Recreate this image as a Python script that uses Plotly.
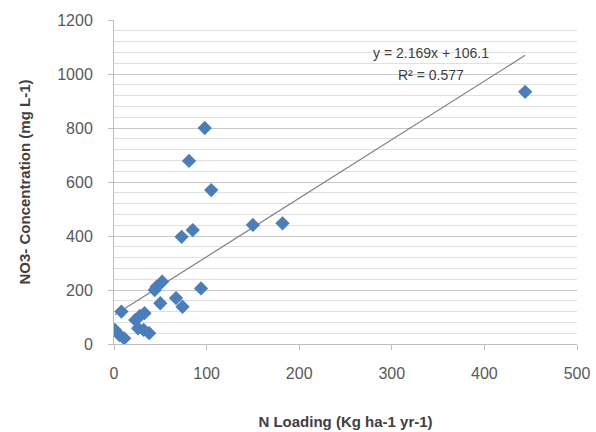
import plotly.graph_objects as go

# Data
n_loading = [444, 98, 81, 105, 85, 73, 150, 182, 94, 46, 52, 44, 50, 67, 74,
             8, 1, 6, 11, 23, 28, 33, 26, 32, 38]
no3_conc = [934, 800, 678, 570, 422, 397, 441, 447, 206, 212, 231, 200, 151, 170, 138,
            120, 52, 33, 21, 89, 104, 114, 58, 52, 40]

slope = 2.169
intercept = 106.1
r_squared = 0.577

x_ticks = [0, 100, 200, 300, 400, 500]
y_ticks = [0, 200, 400, 600, 800, 1000, 1200]

x_min, x_max = min(n_loading), max(n_loading)
trend_x = [x_min, x_max]
trend_y = [slope * v + intercept for v in trend_x]

fig = go.Figure()
fig.add_trace(go.Scatter(
    x=trend_x, y=trend_y, mode="lines",
    line=dict(color="#808080", width=1.2), showlegend=False, hoverinfo="skip"))
fig.add_trace(go.Scatter(
    x=n_loading, y=no3_conc, mode="markers",
    marker=dict(symbol="diamond", size=11, color="#4a7ebb"),
    showlegend=False))

font_family = "Liberation Sans, Arial, sans-serif"

fig.add_annotation(x=342, y=1078, xref="x", yref="y",
                   text=f"y = {slope}x + {intercept}", showarrow=False,
                   font=dict(family=font_family, size=14, color="#404040"))
fig.add_annotation(x=342, y=996, xref="x", yref="y",
                   text=f"R² = {r_squared}", showarrow=False,
                   font=dict(family=font_family, size=14, color="#404040"))

fig.update_layout(
    width=596, height=432,
    margin=dict(l=114, r=19, t=20, b=88),
    paper_bgcolor="white", plot_bgcolor="white",
    font=dict(family=font_family, color="#595959"),
    xaxis=dict(
        range=[0, 500], tickvals=x_ticks, showgrid=False, zeroline=False,
        automargin=False,
        showline=True, linecolor="#bfbfbf", linewidth=1,
        ticks="outside", ticklen=5, tickcolor="#bfbfbf",
        ticklabelstandoff=10,
        tickfont=dict(size=16, color="#595959"),
        title=dict(text="<b>N Loading (Kg ha-1 yr-1)</b>", standoff=35,
                   font=dict(size=15, color="#404040")),
    ),
    yaxis=dict(
        range=[0, 1200], tickvals=y_ticks, showgrid=True, gridcolor="#c8c8c8",
        gridwidth=1, zeroline=False,
        automargin=False,
        showline=True, linecolor="#bfbfbf", linewidth=1,
        ticks="outside", ticklen=5, tickcolor="#bfbfbf",
        ticklabelstandoff=12,
        tickfont=dict(size=16, color="#595959"),
        minor=dict(dtick=40, showgrid=True, gridcolor="#e0e0e0", gridwidth=1),
        title=dict(text="<b>NO3- Concentration (mg L-1)</b>", standoff=22,
                   font=dict(size=15, color="#404040")),
    ),
)

fig.write_html("out.html", config={"displayModeBar": False},
               post_script="document.body.style.margin='0';")
